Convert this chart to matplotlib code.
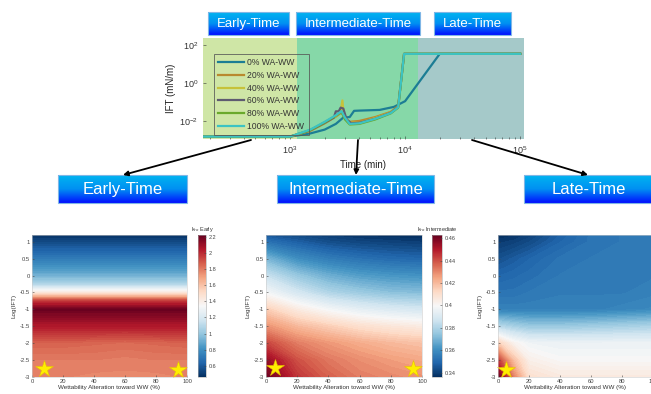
import numpy as np
import matplotlib
matplotlib.use('Agg')
import matplotlib.pyplot as plt
from matplotlib.colors import LinearSegmentedColormap, Normalize
from matplotlib.patches import Rectangle
from matplotlib.cm import ScalarMappable

plt.rcParams['font.family'] = ['Liberation Sans', 'DejaVu Sans']

W, H = 651, 394

# ---- top panel: IFT vs time ----
series_labels = ['0% WA-WW', '20% WA-WW', '40% WA-WW', '60% WA-WW', '80% WA-WW', '100% WA-WW']
series_colors = ['#1c7d94', '#b98a2e', '#c6c23a', '#5e5b70', '#6aa92c', '#3cc3c3']

t_0 = [175, 1000, 1500, 2000, 2500, 2900, 3300, 3600, 4000, 6000, 8000, 10000, 20000, 100000]
ift_0 = [1.5e-3, 1.5e-3, 2.2e-3, 3.5e-3, 7e-3, 1.5e-2, 1.6e-2, 3.4e-2, 3.5e-2, 3.8e-2, 5.5e-2, 0.11, 34, 34]
t_20 = [175, 1000, 1500, 2000, 2500, 2800, 3000, 3300, 4000, 5500, 7500, 8700, 9800, 100000]
ift_20 = [1.5e-3, 1.5e-3, 3e-3, 7.5e-3, 1.7e-2, 2.8e-2, 1.4e-2, 9e-3, 1e-2, 1.6e-2, 3e-2, 6e-2, 34, 34]
t_40 = [175, 1000, 1500, 2000, 2500, 2750, 2850, 2950, 3300, 4000, 5500, 7500, 8700, 9800, 100000]
ift_40 = [1.5e-3, 1.5e-3, 3.2e-3, 8e-3, 1.8e-2, 3e-2, 0.12, 1.5e-2, 8e-3, 8e-3, 1.4e-2, 2.8e-2, 5.5e-2, 34, 34]
t_60 = [175, 1000, 1500, 2000, 2400, 2500, 2650, 2750, 2900, 3100, 3400, 4000, 5500, 7500, 8700, 9800, 100000]
ift_60 = [1.5e-3, 1.5e-3, 3.2e-3, 8e-3, 1.5e-2, 3.2e-2, 3.2e-2, 5e-2, 4.5e-2, 1.2e-2, 7.5e-3, 8e-3, 1.3e-2, 2.7e-2, 5.5e-2, 34, 34]
t_80 = [175, 1000, 1500, 2000, 2500, 2800, 3000, 3300, 4000, 5500, 7500, 8700, 9800, 100000]
ift_80 = [1.5e-3, 1.5e-3, 3.3e-3, 8.5e-3, 1.9e-2, 3e-2, 1.2e-2, 6.5e-3, 7e-3, 1.2e-2, 2.5e-2, 5e-2, 34, 34]
t_100 = [175, 1000, 1500, 2000, 2500, 2800, 3000, 3300, 4000, 5500, 7500, 8700, 9800, 100000]
ift_100 = [1.5e-3, 1.5e-3, 3.5e-3, 9e-3, 2e-2, 3.3e-2, 1.5e-2, 7e-3, 7.5e-3, 1.3e-2, 2.6e-2, 5.2e-2, 34, 34]

# time windows (min)
window_edges = [175, 1150, 13000, 108000]
window_colors = ['#cfe6a6', '#86d8a8', '#a5c9c9']

# ---- bottom panels: k_ro maps ----
wa_early = [0, 20, 40, 60, 80, 100]
logift_early = [-3, -2.5, -2, -1.5, -1, -0.75, -0.5, -0.25, 0, 0.5, 1, 1.2]
kro_early = [
    [1.78, 1.78, 1.77, 1.77, 1.77, 1.78],
    [1.80, 1.80, 1.80, 1.79, 1.80, 1.80],
    [1.86, 1.86, 1.85, 1.84, 1.85, 1.86],
    [2.05, 2.05, 2.05, 2.05, 2.05, 2.05],
    [2.22, 2.22, 2.22, 2.22, 2.22, 2.22],
    [1.95, 1.95, 1.95, 1.95, 1.95, 1.95],
    [1.45, 1.45, 1.45, 1.45, 1.45, 1.45],
    [1.08, 1.08, 1.08, 1.08, 1.08, 1.08],
    [0.92, 0.92, 0.92, 0.92, 0.92, 0.92],
    [0.72, 0.72, 0.72, 0.72, 0.72, 0.72],
    [0.55, 0.55, 0.55, 0.55, 0.55, 0.55],
    [0.47, 0.47, 0.47, 0.47, 0.47, 0.47],
]
early_ticks = [0.6, 0.8, 1, 1.2, 1.4, 1.6, 1.8, 2, 2.2]
early_ticklabels = ['0.6', '0.8', '1', '1.2', '1.4', '1.6', '1.8', '2', '2.2']

wa_inter = [0, 20, 40, 60, 80, 100]
logift_inter = [-3, -2.5, -2, -1.5, -1, -0.5, 0, 0.5, 1, 1.2]
kro_inter = [
    [0.462, 0.445, 0.437, 0.432, 0.430, 0.428],
    [0.455, 0.440, 0.433, 0.429, 0.426, 0.424],
    [0.442, 0.432, 0.427, 0.423, 0.420, 0.418],
    [0.428, 0.420, 0.415, 0.410, 0.407, 0.405],
    [0.415, 0.405, 0.398, 0.393, 0.390, 0.388],
    [0.398, 0.388, 0.380, 0.376, 0.373, 0.372],
    [0.385, 0.375, 0.368, 0.364, 0.362, 0.361],
    [0.370, 0.360, 0.355, 0.352, 0.350, 0.349],
    [0.352, 0.347, 0.343, 0.341, 0.340, 0.339],
    [0.345, 0.342, 0.339, 0.337, 0.336, 0.336],
]
inter_ticks = [0.34, 0.36, 0.38, 0.4, 0.42, 0.44, 0.46]
inter_ticklabels = ['0.34', '0.36', '0.38', '0.4', '0.42', '0.44', '0.46']

wa_late = [0, 10, 20, 40, 60, 80, 100]
logift_late = [-3, -2.5, -2, -1.5, -1, -0.5, 0, 0.5, 1, 1.2]
kro_late = [
    [1.00, 0.75, 0.58, 0.55, 0.55, 0.55, 0.55],
    [0.85, 0.65, 0.53, 0.50, 0.50, 0.50, 0.50],
    [0.62, 0.52, 0.48, 0.47, 0.47, 0.47, 0.47],
    [0.36, 0.33, 0.31, 0.31, 0.32, 0.33, 0.34],
    [0.16, 0.16, 0.16, 0.16, 0.16, 0.17, 0.18],
    [0.13, 0.13, 0.14, 0.15, 0.15, 0.15, 0.16],
    [0.10, 0.11, 0.12, 0.14, 0.15, 0.15, 0.15],
    [0.06, 0.08, 0.10, 0.13, 0.14, 0.15, 0.15],
    [0.02, 0.03, 0.05, 0.10, 0.13, 0.14, 0.14],
    [0.00, 0.01, 0.03, 0.09, 0.13, 0.14, 0.14],
]

# stars marking the chosen cases
stars_early = ([8, 94], [-2.75, -2.78])
stars_inter = ([6, 94], [-2.72, -2.75])
stars_late = ([5], [-2.78])


def px_axes(fig, x0, y0, x1, y1, **kw):
    """add axes from pixel box (top-left origin)"""
    return fig.add_axes([x0 / W, 1 - y1 / H, (x1 - x0) / W, (y1 - y0) / H], **kw)


def blue_box(ax, x0, y0, x1, y1, text, fs):
    grad = np.linspace(0, 1, 64).reshape(-1, 1)
    cmap = LinearSegmentedColormap.from_list('bb', ['#00b4f0', '#0090f2', '#0010ff'])
    ax.imshow(grad, extent=(x0, x1, y1, y0), cmap=cmap, aspect='auto', zorder=2)
    ax.add_patch(Rectangle((x0, y0), x1 - x0, y1 - y0, fill=False, ec='#7fb6e6', lw=0.8, zorder=3))
    ax.text((x0 + x1) / 2, (y0 + y1) / 2 + 0.5, text, color='white', fontsize=fs,
            ha='center', va='center', zorder=4)


def draw_map(fig, box, cbox, xs, ys, zs, vmin, vmax, stars, ticks=None, ticklabels=None, cb_title=None):
    ax = px_axes(fig, *box)
    X, Y = np.meshgrid(xs, ys)
    levels = np.linspace(vmin, vmax, 80)
    ax.contourf(X, Y, np.array(zs), levels=levels, cmap='RdBu_r', extend='both')
    ax.plot(stars[0], stars[1], ls='none', marker='*', ms=13, color='#ffee00',
            mec='#e6c200', mew=0.4, clip_on=False)
    ax.set_xlim(0, 100)
    ax.set_ylim(-3, 1.2)
    ax.set_xticks([0, 20, 40, 60, 80, 100])
    ax.set_yticks([-3, -2.5, -2, -1.5, -1, -0.5, 0, 0.5, 1])
    ax.set_yticklabels(['-3', '-2.5', '-2', '-1.5', '-1', '-0.5', '0', '0.5', '1'])
    ax.tick_params(labelsize=4.2, length=1.5, width=0.4, direction='in', pad=1.5,
                   colors='#444444', top=False, right=False)
    ax.set_xlabel('Wettability Alteration toward WW (%)', fontsize=4.5, labelpad=1, color='#333333')
    ax.set_ylabel('Log(IFT)', fontsize=4.5, labelpad=2, color='#333333')
    for s in ax.spines.values():
        s.set_color('#cccccc')
        s.set_linewidth(0.4)
    if cbox is not None:
        cax = px_axes(fig, *cbox)
        sm = ScalarMappable(norm=Normalize(vmin, vmax), cmap='RdBu_r')
        cb = fig.colorbar(sm, cax=cax)
        cb.set_ticks(ticks)
        cb.set_ticklabels(ticklabels)
        cb.ax.tick_params(labelsize=4, length=1.5, width=0.4, direction='in', pad=2, colors='#444444')
        cb.outline.set_linewidth(0.4)
        cb.outline.set_edgecolor('#aaaaaa')
        cax.set_title(cb_title, fontsize=4, pad=3, color='#333333')
    return ax


def main():
    fig = plt.figure(figsize=(W / 100, H / 100), dpi=100)

    # top IFT plot
    ax = px_axes(fig, 203, 38, 524, 139)
    for i in range(3):
        ax.axvspan(window_edges[i], window_edges[i + 1], color=window_colors[i], lw=0, zorder=0)
    curves = [(t_0, ift_0), (t_20, ift_20), (t_40, ift_40), (t_60, ift_60), (t_80, ift_80), (t_100, ift_100)]
    for (t, y), lab, c in zip(curves, series_labels, series_colors):
        ax.plot(t, y, color=c, lw=1.6, label=lab, zorder=2)
    ax.set_xscale('log')
    ax.set_yscale('log')
    ax.set_xlim(window_edges[0], window_edges[-1])
    ax.set_ylim(1.12e-3, 232)
    ax.set_yticks([1e-2, 1, 1e2])
    ax.yaxis.set_minor_locator(matplotlib.ticker.NullLocator())
    ax.set_xticks([1e3, 1e4, 1e5])
    ax.tick_params(which='both', direction='in', labelsize=6.5, colors='#333333', width=0.4)
    ax.tick_params(which='major', length=2)
    ax.tick_params(which='minor', length=1.2)
    ax.set_xlabel('Time (min)', fontsize=7, labelpad=3, color='#222222')
    ax.set_ylabel('IFT (mN/m)', fontsize=7, labelpad=2, color='#222222')
    for s in ax.spines.values():
        s.set_visible(False)
    leg = ax.legend(loc='upper left', bbox_to_anchor=(0.034, 0.84), borderaxespad=0,
                    fontsize=6.2, frameon=True, fancybox=False, handlelength=3.0,
                    labelspacing=0.42, borderpad=0.5, handletextpad=0.4)
    leg.get_frame().set_facecolor('none')
    leg.get_frame().set_edgecolor('#555555')
    leg.get_frame().set_linewidth(0.7)
    for txt in leg.get_texts():
        txt.set_color('#333333')

    # bottom maps
    draw_map(fig, (32, 235, 187, 377), (198, 235, 206, 377), wa_early, logift_early, kro_early,
             0.46, 2.225, stars_early, early_ticks, early_ticklabels, r'k$_{ro}$ Early')
    draw_map(fig, (266, 235, 422, 377), (432, 235, 442, 377), wa_inter, logift_inter, kro_inter,
             0.336, 0.463, stars_inter, inter_ticks, inter_ticklabels, r'k$_{ro}$ Intermediate')
    draw_map(fig, (498, 235, 653, 377), None, wa_late, logift_late, kro_late,
             0.0, 1.0, stars_late)

    # overlay for boxes and arrows
    ov = fig.add_axes([0, 0, 1, 1], zorder=10)
    ov.patch.set_alpha(0)
    blue_box(ov, 208, 12, 289, 35, 'Early-Time', 9.5)
    blue_box(ov, 296, 12, 420, 35, 'Intermediate-Time', 9.5)
    blue_box(ov, 434, 12, 511, 35, 'Late-Time', 9.5)
    blue_box(ov, 58, 175, 187, 203, 'Early-Time', 12)
    blue_box(ov, 277, 175, 434, 203, 'Intermediate-Time', 12)
    blue_box(ov, 524, 175, 653, 203, 'Late-Time', 12)
    arrows = [((251, 140), (123, 175)), ((358, 140), (356, 175)), ((472, 140), (588, 175))]
    for start, end in arrows:
        ov.annotate('', xy=end, xytext=start,
                    arrowprops=dict(arrowstyle='-|>', color='black', lw=1.3,
                                    mutation_scale=7, shrinkA=0, shrinkB=0))
    ov.set_xlim(0, W)
    ov.set_ylim(H, 0)
    ov.axis('off')

    fig.savefig('out.png', dpi=100)


if __name__ == '__main__':
    main()
